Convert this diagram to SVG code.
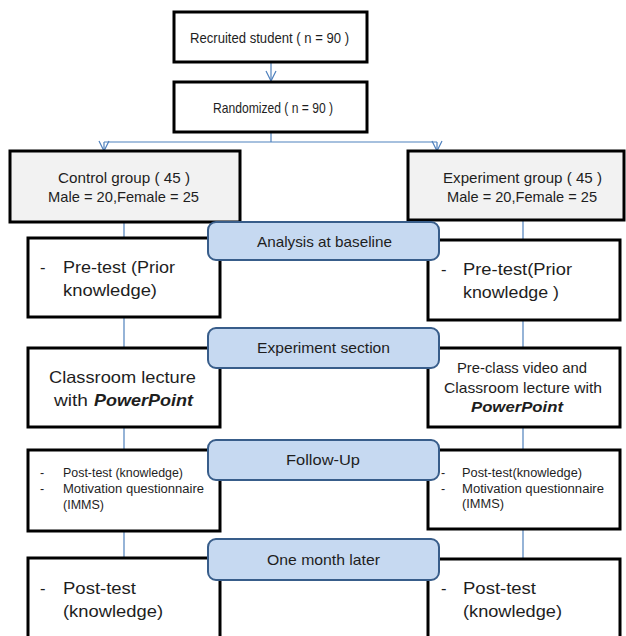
<svg xmlns="http://www.w3.org/2000/svg" width="626" height="636" viewBox="0 0 626 636">
<defs>
<style>
.box{fill:#ffffff;stroke:#000000;stroke-width:3}
.grp{fill:#f2f2f2;stroke:#000000;stroke-width:3}
.pill{fill:#c6d9f1;stroke:#385d8a;stroke-width:2}
.con{fill:none;stroke:#4f81bd;stroke-width:1.2}
text{font-family:"Liberation Sans",Arial,sans-serif;fill:#1e1e1e}
.m{font-size:15px}
.l{font-size:16.5px}
.s{font-size:12.5px}
.bi{font-weight:bold;font-style:italic}
</style>
<marker id="ah" viewBox="0 0 12 12" refX="11" refY="6" markerWidth="12" markerHeight="12" markerUnits="userSpaceOnUse" orient="auto">
<path d="M1,1 L11,6 L1,11" fill="none" stroke="#4f81bd" stroke-width="1.2"/>
</marker>
</defs>
<rect width="626" height="636" fill="#ffffff"/>
<g id="connectors">
<line class="con" x1="271" y1="63" x2="271" y2="81" marker-end="url(#ah)"/>
<line class="con" x1="271" y1="132" x2="271" y2="142"/>
<line class="con" x1="104" y1="142" x2="437" y2="142"/>
<line class="con" x1="104" y1="142" x2="104" y2="151" marker-end="url(#ah)"/>
<line class="con" x1="437" y1="142" x2="437" y2="151" marker-end="url(#ah)"/>
<line class="con" x1="124" y1="222" x2="124" y2="238"/>
<line class="con" x1="124" y1="317" x2="124" y2="348"/>
<line class="con" x1="124" y1="427" x2="124" y2="450"/>
<line class="con" x1="124" y1="531" x2="124" y2="558"/>
<line class="con" x1="523" y1="220" x2="523" y2="240"/>
<line class="con" x1="523" y1="320" x2="523" y2="348"/>
<line class="con" x1="523" y1="427" x2="523" y2="450"/>
<line class="con" x1="523" y1="529" x2="523" y2="559"/>
</g>
<g id="recruited">
<rect class="box" x="174" y="12" width="193" height="50"/>
<text class="m" x="190" y="43" textLength="159" lengthAdjust="spacingAndGlyphs">Recruited student ( n = 90 )</text>
</g>
<g id="randomized">
<rect class="box" x="174" y="82" width="193" height="50"/>
<text class="m" x="213" y="113" textLength="120" lengthAdjust="spacingAndGlyphs">Randomized ( n = 90 )</text>
</g>
<g id="control-group">
<rect class="grp" x="10" y="151" width="230" height="71"/>
<text class="m" x="58" y="183" textLength="132" lengthAdjust="spacingAndGlyphs">Control group ( 45  )</text>
<text class="m" x="48" y="202" textLength="151" lengthAdjust="spacingAndGlyphs">Male = 20,Female = 25</text>
</g>
<g id="experiment-group">
<rect class="grp" x="408" y="151" width="216" height="69"/>
<text class="m" x="443" y="183" textLength="159" lengthAdjust="spacingAndGlyphs">Experiment group ( 45 )</text>
<text class="m" x="447" y="202" textLength="150" lengthAdjust="spacingAndGlyphs">Male = 20,Female = 25</text>
</g>
<g id="control-pretest">
<rect class="box" x="28" y="238" width="192" height="79"/>
<text class="l" x="40" y="273">-</text>
<text class="l" x="63" y="273" textLength="112" lengthAdjust="spacingAndGlyphs">Pre-test (Prior</text>
<text class="l" x="63" y="296" textLength="94" lengthAdjust="spacingAndGlyphs">knowledge)</text>
</g>
<g id="experiment-pretest">
<rect class="box" x="428" y="240" width="192" height="80"/>
<text class="l" x="441" y="275">-</text>
<text class="l" x="463" y="275" textLength="109" lengthAdjust="spacingAndGlyphs">Pre-test(Prior</text>
<text class="l" x="463" y="298" textLength="96" lengthAdjust="spacingAndGlyphs">knowledge )</text>
</g>
<g id="control-lecture">
<rect class="box" x="28" y="348" width="192" height="79"/>
<text class="l" x="49" y="383" textLength="147" lengthAdjust="spacingAndGlyphs">Classroom lecture</text>
<text class="l" x="54" y="406"><tspan textLength="34" lengthAdjust="spacingAndGlyphs">with</tspan><tspan class="bi" x="94" textLength="99" lengthAdjust="spacingAndGlyphs">PowerPoint</tspan></text>
</g>
<g id="experiment-lecture">
<rect class="box" x="428" y="348" width="192" height="79"/>
<text class="m" x="457" y="373" textLength="130" lengthAdjust="spacingAndGlyphs">Pre-class video and</text>
<text class="m" x="444" y="393" textLength="158" lengthAdjust="spacingAndGlyphs">Classroom lecture with</text>
<text class="m bi" x="471" y="412" textLength="92" lengthAdjust="spacingAndGlyphs">PowerPoint</text>
</g>
<g id="control-followup">
<rect class="box" x="28" y="450" width="192" height="81"/>
<text class="s" x="40" y="477">-</text>
<text class="s" x="63" y="477" textLength="120" lengthAdjust="spacingAndGlyphs">Post-test (knowledge)</text>
<text class="s" x="40" y="493">-</text>
<text class="s" x="63" y="493" textLength="141" lengthAdjust="spacingAndGlyphs">Motivation questionnaire</text>
<text class="s" x="63" y="509" textLength="41" lengthAdjust="spacingAndGlyphs">(IMMS)</text>
</g>
<g id="experiment-followup">
<rect class="box" x="428" y="450" width="192" height="79"/>
<text class="s" x="441" y="477">-</text>
<text class="s" x="462" y="477" textLength="120" lengthAdjust="spacingAndGlyphs">Post-test(knowledge)</text>
<text class="s" x="441" y="493">-</text>
<text class="s" x="462" y="493" textLength="142" lengthAdjust="spacingAndGlyphs">Motivation questionnaire</text>
<text class="s" x="462" y="508" textLength="42" lengthAdjust="spacingAndGlyphs">(IMMS)</text>
</g>
<g id="control-onemonth">
<rect class="box" x="28" y="558" width="192" height="90"/>
<text class="l" x="40" y="594">-</text>
<text class="l" x="63" y="594" textLength="73" lengthAdjust="spacingAndGlyphs">Post-test</text>
<text class="l" x="63" y="617" textLength="100" lengthAdjust="spacingAndGlyphs">(knowledge)</text>
</g>
<g id="experiment-onemonth">
<rect class="box" x="428" y="559" width="192" height="90"/>
<text class="l" x="441" y="594">-</text>
<text class="l" x="463" y="594" textLength="73" lengthAdjust="spacingAndGlyphs">Post-test</text>
<text class="l" x="463" y="617" textLength="99" lengthAdjust="spacingAndGlyphs">(knowledge)</text>
</g>
<g id="analysis-baseline">
<rect class="pill" x="208" y="222" width="231" height="38" rx="8"/>
<text class="m" x="257" y="247" textLength="135" lengthAdjust="spacingAndGlyphs">Analysis at baseline</text>
</g>
<g id="experiment-section">
<rect class="pill" x="208" y="328" width="231" height="40" rx="8"/>
<text class="m" x="257" y="353" textLength="133" lengthAdjust="spacingAndGlyphs">Experiment section</text>
</g>
<g id="follow-up">
<rect class="pill" x="208" y="440" width="231" height="40" rx="8"/>
<text class="m" x="286" y="465" textLength="74" lengthAdjust="spacingAndGlyphs">Follow-Up</text>
</g>
<g id="one-month-later">
<rect class="pill" x="208" y="539" width="231" height="41" rx="8"/>
<text class="m" x="267" y="565" textLength="113" lengthAdjust="spacingAndGlyphs">One month later</text>
</g>
</svg>
